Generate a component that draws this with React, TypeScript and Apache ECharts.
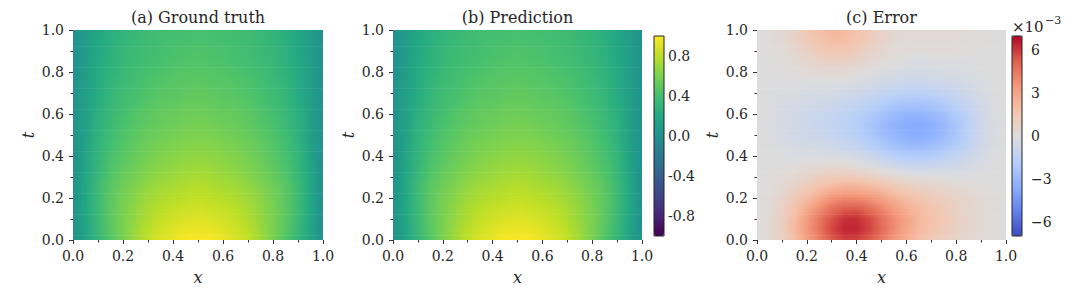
import React, { useEffect, useRef } from "react";
import * as echarts from "echarts";

// grid coordinates of the sampled field
const xGrid = [0, 0.05, 0.1, 0.15, 0.2, 0.25, 0.3, 0.35, 0.4, 0.45, 0.5, 0.55, 0.6, 0.65, 0.7, 0.75, 0.8, 0.85, 0.9, 0.95, 1];
const tGrid = [0, 0.05, 0.1, 0.15, 0.2, 0.25, 0.3, 0.35, 0.4, 0.45, 0.5, 0.55, 0.6, 0.65, 0.7, 0.75, 0.8, 0.85, 0.9, 0.95, 1];

// (a) ground truth u(x,t), one row per t (bottom to top)
const truthRows = [
  [0, .16, .31, .45, .59, .71, .81, .89, .95, .99, 1.00, .99, .95, .89, .81, .71, .59, .45, .31, .16, 0],
  [0, .17, .34, .48, .60, .70, .79, .86, .90, .94, .95, .94, .90, .86, .79, .70, .60, .48, .34, .17, 0],
  [0, .18, .35, .49, .60, .68, .76, .82, .86, .89, .90, .89, .86, .82, .76, .68, .60, .49, .35, .18, 0],
  [0, .19, .36, .49, .59, .67, .74, .79, .82, .84, .86, .84, .82, .79, .74, .67, .59, .49, .36, .19, 0],
  [0, .19, .36, .49, .58, .65, .71, .75, .78, .80, .82, .80, .78, .75, .71, .65, .58, .49, .36, .19, 0],
  [0, .19, .36, .48, .56, .62, .68, .72, .74, .76, .78, .76, .74, .72, .68, .62, .56, .48, .36, .19, 0],
  [0, .18, .34, .45, .53, .59, .64, .68, .70, .73, .74, .73, .70, .68, .64, .59, .53, .45, .34, .18, 0],
  [0, .17, .32, .43, .50, .56, .61, .64, .67, .69, .70, .69, .67, .64, .61, .56, .50, .43, .32, .17, 0],
  [0, .16, .31, .41, .48, .54, .58, .62, .64, .66, .67, .66, .64, .62, .58, .54, .48, .41, .31, .16, 0],
  [0, .15, .29, .39, .46, .51, .56, .59, .61, .63, .64, .63, .61, .59, .56, .51, .46, .39, .29, .15, 0],
  [0, .15, .28, .37, .44, .49, .53, .56, .58, .60, .61, .60, .58, .56, .53, .49, .44, .37, .28, .15, 0],
  [0, .14, .27, .35, .42, .46, .50, .53, .55, .57, .58, .57, .55, .53, .50, .46, .42, .35, .27, .14, 0],
  [0, .13, .26, .34, .40, .45, .49, .52, .53, .55, .56, .55, .53, .52, .49, .45, .40, .34, .26, .13, 0],
  [0, .13, .24, .32, .38, .42, .46, .49, .50, .52, .53, .52, .50, .49, .46, .42, .38, .32, .24, .13, 0],
  [0, .12, .23, .31, .37, .41, .44, .47, .48, .50, .51, .50, .48, .47, .44, .41, .37, .31, .23, .12, 0],
  [0, .12, .23, .30, .35, .39, .43, .45, .47, .48, .49, .48, .47, .45, .43, .39, .35, .30, .23, .12, 0],
  [0, .11, .22, .29, .34, .38, .41, .43, .45, .46, .47, .46, .45, .43, .41, .38, .34, .29, .22, .11, 0],
  [0, .11, .21, .27, .32, .36, .39, .41, .43, .44, .45, .44, .43, .41, .39, .36, .32, .27, .21, .11, 0],
  [0, .11, .20, .27, .32, .35, .38, .40, .42, .43, .44, .43, .42, .40, .38, .35, .32, .27, .20, .11, 0],
  [0, .10, .19, .26, .30, .34, .37, .39, .40, .41, .42, .41, .40, .39, .37, .34, .30, .26, .19, .10, 0],
  [0, .10, .19, .25, .30, .33, .36, .38, .39, .40, .41, .40, .39, .38, .36, .33, .30, .25, .19, .10, 0],
];

// (b) prediction: indistinguishable from (a) at the picture's colour resolution
const predictionRows = [
  [0, .16, .31, .45, .59, .71, .81, .89, .95, .99, 1.00, .99, .95, .89, .81, .71, .59, .45, .31, .16, 0],
  [0, .17, .34, .48, .60, .70, .79, .86, .90, .94, .95, .94, .90, .86, .79, .70, .60, .48, .34, .17, 0],
  [0, .18, .35, .49, .60, .68, .76, .82, .86, .89, .90, .89, .86, .82, .76, .68, .60, .49, .35, .18, 0],
  [0, .19, .36, .49, .59, .67, .74, .79, .82, .84, .86, .84, .82, .79, .74, .67, .59, .49, .36, .19, 0],
  [0, .19, .36, .49, .58, .65, .71, .75, .78, .80, .82, .80, .78, .75, .71, .65, .58, .49, .36, .19, 0],
  [0, .19, .36, .48, .56, .62, .68, .72, .74, .76, .78, .76, .74, .72, .68, .62, .56, .48, .36, .19, 0],
  [0, .18, .34, .45, .53, .59, .64, .68, .70, .73, .74, .73, .70, .68, .64, .59, .53, .45, .34, .18, 0],
  [0, .17, .32, .43, .50, .56, .61, .64, .67, .69, .70, .69, .67, .64, .61, .56, .50, .43, .32, .17, 0],
  [0, .16, .31, .41, .48, .54, .58, .62, .64, .66, .67, .66, .64, .62, .58, .54, .48, .41, .31, .16, 0],
  [0, .15, .29, .39, .46, .51, .56, .59, .61, .63, .64, .63, .61, .59, .56, .51, .46, .39, .29, .15, 0],
  [0, .15, .28, .37, .44, .49, .53, .56, .58, .60, .61, .60, .58, .56, .53, .49, .44, .37, .28, .15, 0],
  [0, .14, .27, .35, .42, .46, .50, .53, .55, .57, .58, .57, .55, .53, .50, .46, .42, .35, .27, .14, 0],
  [0, .13, .26, .34, .40, .45, .49, .52, .53, .55, .56, .55, .53, .52, .49, .45, .40, .34, .26, .13, 0],
  [0, .13, .24, .32, .38, .42, .46, .49, .50, .52, .53, .52, .50, .49, .46, .42, .38, .32, .24, .13, 0],
  [0, .12, .23, .31, .37, .41, .44, .47, .48, .50, .51, .50, .48, .47, .44, .41, .37, .31, .23, .12, 0],
  [0, .12, .23, .30, .35, .39, .43, .45, .47, .48, .49, .48, .47, .45, .43, .39, .35, .30, .23, .12, 0],
  [0, .11, .22, .29, .34, .38, .41, .43, .45, .46, .47, .46, .45, .43, .41, .38, .34, .29, .22, .11, 0],
  [0, .11, .21, .27, .32, .36, .39, .41, .43, .44, .45, .44, .43, .41, .39, .36, .32, .27, .21, .11, 0],
  [0, .11, .20, .27, .32, .35, .38, .40, .42, .43, .44, .43, .42, .40, .38, .35, .32, .27, .20, .11, 0],
  [0, .10, .19, .26, .30, .34, .37, .39, .40, .41, .42, .41, .40, .39, .37, .34, .30, .26, .19, .10, 0],
  [0, .10, .19, .25, .30, .33, .36, .38, .39, .40, .41, .40, .39, .38, .36, .33, .30, .25, .19, .10, 0],
];

// (c) error, in units of 1e-3, one row per t (bottom to top)
const errorRows = [
  [0, .3, .9, 1.9, 3.1, 4.2, 5.3, 5.8, 5.8, 5.3, 4.4, 3.4, 2.6, 1.9, 1.4, 1.0, .7, .4, .2, .1, 0],
  [0, .3, 1.0, 2.1, 3.4, 4.6, 5.7, 6.4, 6.4, 5.8, 4.9, 3.9, 2.9, 2.2, 1.7, 1.3, .9, .6, .3, .1, 0],
  [0, .3, 1.0, 2.0, 3.2, 4.5, 5.5, 6.2, 6.2, 5.7, 4.8, 3.8, 3.0, 2.3, 1.8, 1.4, 1.0, .6, .3, .1, 0],
  [0, .2, .8, 1.7, 2.7, 3.8, 4.7, 5.2, 5.3, 4.8, 4.1, 3.3, 2.6, 2.1, 1.7, 1.3, .9, .6, .3, .1, 0],
  [0, .2, .6, 1.3, 2.0, 2.8, 3.5, 3.9, 3.9, 3.6, 3.1, 2.5, 2.0, 1.6, 1.3, 1.0, .7, .5, .2, .1, 0],
  [0, .1, .4, .8, 1.3, 1.8, 2.2, 2.5, 2.5, 2.3, 1.9, 1.5, 1.2, .9, .7, .6, .4, .2, .1, 0, 0],
  [0, .1, .2, .4, .7, 1.0, 1.2, 1.3, 1.2, 1.0, .7, .4, .2, .1, 0, -.1, -.1, -.1, 0, 0, 0],
  [0, 0, 0, .1, .2, .3, .4, .4, .2, 0, -.3, -.6, -.8, -.9, -.9, -.8, -.6, -.4, -.2, -.1, 0],
  [0, 0, -.1, -.2, -.2, -.2, -.3, -.4, -.6, -.9, -1.3, -1.7, -1.9, -2.0, -1.9, -1.6, -1.3, -.9, -.5, -.2, 0],
  [0, -.1, -.2, -.4, -.5, -.6, -.7, -1.0, -1.2, -1.7, -2.1, -2.6, -2.9, -3.0, -2.8, -2.4, -1.9, -1.3, -.7, -.2, 0],
  [0, -.1, -.4, -.6, -.7, -.9, -1.1, -1.3, -1.7, -2.1, -2.7, -3.1, -3.5, -3.6, -3.4, -2.9, -2.3, -1.5, -.8, -.3, 0],
  [0, -.2, -.4, -.6, -.8, -1.0, -1.2, -1.5, -1.8, -2.3, -2.8, -3.3, -3.6, -3.7, -3.5, -3.0, -2.3, -1.6, -.8, -.3, 0],
  [0, -.1, -.4, -.6, -.8, -.9, -1.1, -1.3, -1.6, -2.0, -2.4, -2.9, -3.2, -3.2, -3.0, -2.6, -2.0, -1.4, -.7, -.2, 0],
  [0, -.1, -.3, -.4, -.5, -.7, -.8, -1.0, -1.2, -1.5, -1.8, -2.2, -2.4, -2.4, -2.3, -2.0, -1.5, -1.0, -.6, -.2, 0],
  [0, -.1, -.2, -.2, -.3, -.4, -.4, -.6, -.7, -.9, -1.2, -1.4, -1.5, -1.6, -1.5, -1.3, -1.0, -.7, -.4, -.1, 0],
  [0, 0, -.1, -.1, -.1, -.1, -.1, -.1, -.3, -.4, -.6, -.7, -.9, -.9, -.8, -.7, -.6, -.4, -.2, -.1, 0],
  [0, 0, 0, .1, .2, .3, .3, .3, .2, 0, -.2, -.3, -.4, -.4, -.4, -.3, -.3, -.2, -.1, 0, 0],
  [0, 0, .1, .3, .5, .7, .9, .8, .7, .4, .2, 0, -.1, -.2, -.2, -.1, -.1, -.1, 0, 0, 0],
  [0, .1, .2, .5, .9, 1.3, 1.5, 1.5, 1.2, .8, .5, .2, .1, .1, .1, .1, .1, .1, 0, 0, 0],
  [0, .1, .3, .7, 1.3, 1.7, 2.0, 2.0, 1.7, 1.1, .7, .3, .2, .2, .2, .2, .2, .1, .1, 0, 0],
  [0, .1, .3, .8, 1.4, 1.9, 2.3, 2.2, 1.8, 1.3, .8, .4, .3, .3, .3, .3, .3, .2, .1, 0, 0],
];

const panelTitles = ["(a) Ground truth", "(b) Prediction", "(c) Error"];
const viridisTicks = [-0.8, -0.4, 0, 0.4, 0.8];
const errorTicks = [-6, -3, 0, 3, 6];
const viridisRange = [-1, 1];
const errorRange = [-7, 7];

const VIRIDIS = ["#440154", "#482475", "#414487", "#355f8d", "#2a788e", "#21918c", "#22a884", "#44bf70", "#7ad151", "#bddf26", "#fde725"];
const COOLWARM = ["#3b4cc0", "#6282ea", "#8db0fe", "#b8d0f9", "#dddcdc", "#f5c4ac", "#f4987a", "#de604d", "#b40426"];

const FONT = "DejaVu Serif";
const TXT = "#262626";

function makeColormap(stops: string[], min: number, max: number) {
  const rgb = stops.map((h) => [parseInt(h.slice(1, 3), 16), parseInt(h.slice(3, 5), 16), parseInt(h.slice(5, 7), 16)]);
  return (v: number) => {
    let n = (v - min) / (max - min);
    n = Math.max(0, Math.min(1, n));
    const p = n * (rgb.length - 1);
    const k = Math.min(Math.floor(p), rgb.length - 2);
    const f = p - k;
    const c = [0, 1, 2].map((q) => Math.round(rgb[k][q] * (1 - f) + rgb[k + 1][q] * f));
    return `rgb(${c[0]},${c[1]},${c[2]})`;
  };
}

export default function App() {
  const ref = useRef<HTMLDivElement>(null);
  useEffect(() => {
    if (!ref.current) return;
    const chart = echarts.init(ref.current, undefined, { renderer: "svg" });

    const viridisOf = makeColormap(VIRIDIS, viridisRange[0], viridisRange[1]);
    const coolwarmOf = makeColormap(COOLWARM, errorRange[0], errorRange[1]);
    const datasets = [truthRows, predictionRows, errorRows];
    const cmaps = [viridisOf, viridisOf, coolwarmOf];
    const STRIPS = 5;
    const lastX = xGrid.length - 1;

    // each data item is one band of the grid between t[i] and t[i+1]; it is shaded
    // like an image with bilinear smoothing between the sampled values
    const makeRender = (rows: number[][], cmap: (v: number) => string) => (params: any, api: any) => {
      const i = api.value(2);
      const t0 = tGrid[i];
      const t1 = tGrid[i + 1];
      const children: any[] = [];
      for (let k = 0; k < STRIPS; k++) {
        const fa = k / STRIPS;
        const fb = (k + 1) / STRIPS;
        const fm = (k + 0.5) / STRIPS;
        const pa = api.coord([xGrid[0], t0 + (t1 - t0) * fa]);
        const pb = api.coord([xGrid[lastX], t0 + (t1 - t0) * fb]);
        const isTop = i === tGrid.length - 2 && k === STRIPS - 1;
        const pad = isTop ? 0 : 0.6;
        const stops = xGrid.map((x, j) => ({
          offset: (x - xGrid[0]) / (xGrid[lastX] - xGrid[0]),
          color: cmap(rows[i][j] * (1 - fm) + rows[i + 1][j] * fm),
        }));
        children.push({
          type: "rect",
          shape: { x: pa[0], y: pb[1] - pad, width: pb[0] - pa[0], height: pa[1] - pb[1] + pad },
          style: { fill: new echarts.graphic.LinearGradient(0, 0, 1, 0, stops) },
        });
      }
      return { type: "group", children };
    };

    const panels = [
      { left: 73, width: 250 },
      { left: 393, width: 249 },
      { left: 757, width: 249 },
    ];
    const bars = [
      { left: 654, range: viridisRange, ticks: viridisTicks, margin: 4, fmt: (v: number) => v.toFixed(1) },
      { left: 1012, range: errorRange, ticks: errorTicks, margin: 9, fmt: (v: number) => (v < 0 ? "\u2212" + Math.abs(v) : String(v)) },
    ];
    const tickStyle = { show: true, inside: false, length: 4, lineStyle: { color: "#333", width: 1 } };
    const minor = { show: true, splitNumber: 2, length: 2.5, lineStyle: { color: "#333", width: 1 } };
    const labelStyle = { fontFamily: FONT, fontSize: 14, color: TXT };

    const grid: any[] = [
      ...panels.map((p) => ({ left: p.left, top: 30, width: p.width, height: 210 })),
      ...bars.map((b) => ({ left: b.left, top: 36, width: 10, height: 200 })),
    ];
    const xAxis: any[] = [
      ...panels.map((_, i) => ({
        type: "value", gridIndex: i, min: 0, max: 1, interval: 0.2,
        axisLine: { show: false }, axisTick: tickStyle, minorTick: minor, splitLine: { show: false },
        axisLabel: { ...labelStyle, margin: 9, formatter: (v: number) => v.toFixed(1) },
        name: "x", nameLocation: "middle", nameGap: 29,
        nameTextStyle: { fontFamily: FONT, fontStyle: "italic", fontSize: 16, color: TXT },
      })),
      ...bars.map((_, i) => ({ type: "value", gridIndex: 3 + i, min: 0, max: 1, show: false })),
    ];
    const yAxis: any[] = [
      ...panels.map((_, i) => ({
        type: "value", gridIndex: i, min: 0, max: 1, interval: 0.2,
        axisLine: { show: false }, axisTick: tickStyle, minorTick: minor, splitLine: { show: false },
        axisLabel: { ...labelStyle, margin: 9, formatter: (v: number) => v.toFixed(1) },
        name: "t", nameLocation: "middle", nameGap: 37,
        nameTextStyle: { fontFamily: FONT, fontStyle: "italic", fontSize: 16, color: TXT },
      })),
      ...bars.map((b, i) => ({
        type: "value", gridIndex: 3 + i, position: "right", min: b.range[0], max: b.range[1],
        axisLine: { show: false }, splitLine: { show: false },
        axisTick: { ...tickStyle, customValues: b.ticks },
        axisLabel: { ...labelStyle, margin: b.margin, customValues: b.ticks, formatter: b.fmt },
      })),
    ];
    const series: any[] = datasets.map((rows, p) => ({
      type: "custom", coordinateSystem: "cartesian2d", xAxisIndex: p, yAxisIndex: p,
      encode: { y: [0, 1] },
      data: tGrid.slice(0, -1).map((t, i) => [t, tGrid[i + 1], i]),
      renderItem: makeRender(rows, cmaps[p]), silent: true,
    }));
    const visualMap: any[] = [
      {
        type: "continuous", seriesIndex: [], dimension: 2, min: viridisRange[0], max: viridisRange[1],
        inRange: { color: VIRIDIS }, left: 654, top: 36, itemWidth: 10, itemHeight: 200,
        calculable: false, padding: 0, hoverLink: false, text: null,
      },
      {
        type: "continuous", seriesIndex: [], dimension: 2, min: errorRange[0], max: errorRange[1],
        inRange: { color: COOLWARM }, left: 1012, top: 36, itemWidth: 10, itemHeight: 200,
        calculable: false, padding: 0, hoverLink: false, text: null,
      },
    ];
    const graphic: any[] = [
      ...panels.map((p, i) => ({
        type: "text", x: p.left + p.width / 2, y: 17, z: 100,
        style: { text: panelTitles[i], font: `16px "${FONT}"`, fill: TXT, align: "center", verticalAlign: "middle" },
      })),
      ...bars.map((b) => ({
        type: "rect", z: 100, shape: { x: b.left, y: 36, width: 10, height: 200 },
        style: { fill: "none", stroke: "#222", lineWidth: 1 },
      })),
      { type: "text", x: 1012, y: 34, z: 100, style: { text: "\u00d710", font: `15px "${FONT}"`, fill: TXT, align: "left", verticalAlign: "bottom" } },
      { type: "text", x: 1045, y: 26, z: 100, style: { text: "\u22123", font: `11px "${FONT}"`, fill: TXT, align: "left", verticalAlign: "bottom" } },
    ];
    chart.setOption({ animation: false, backgroundColor: "#ffffff", grid, xAxis, yAxis, series, visualMap, graphic });
    return () => chart.dispose();
  }, []);
  return <div ref={ref} style={{ position: "fixed", left: 0, top: 0, width: 1080, height: 305 }} />;
}
